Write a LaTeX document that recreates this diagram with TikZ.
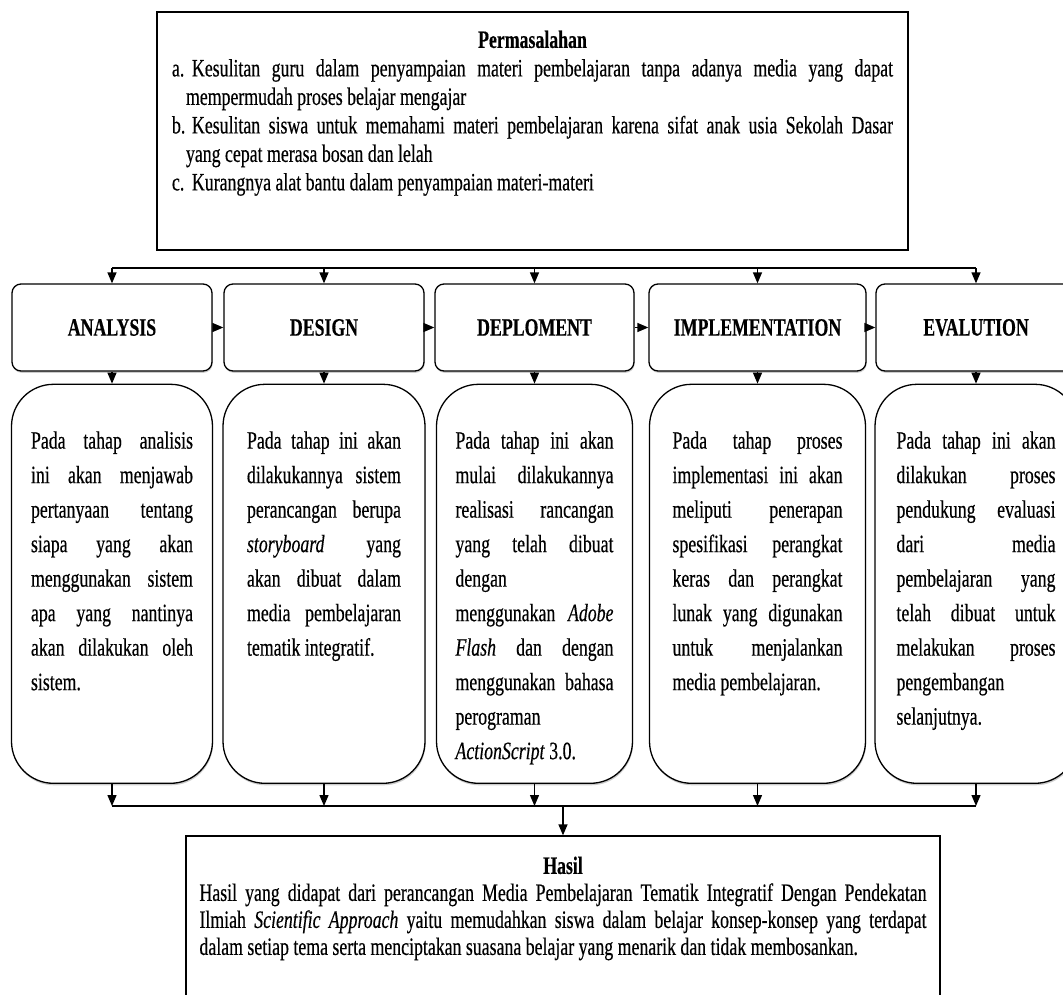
\documentclass[tikz,border=0pt]{standalone}
\usepackage{fontspec}
\setmainfont{Liberation Serif}[FakeStretch=0.712,FakeBold=0.4]
\usetikzlibrary{arrows.meta,positioning,shadows}
\hyphenpenalty=10000
\exhyphenpenalty=10000
\hbadness=10000
\tolerance=10000

\newcommand{\isikotak}[2]{\parbox[c][305pt][t]{#1}{\fontsize{25}{34.5}\selectfont #2}}
\newcommand{\butir}[1]{\hangindent=14pt\hangafter=1\noindent\makebox[20pt][l]{#1}}

\begin{document}
\begin{tikzpicture}[x=1pt,y=-1pt,
	every node/.style={font=\fontsize{25}{28.5}\selectfont},
	kotak/.style={draw, line width=1.3pt},
	tahap/.style={draw, fill=white, line width=1.3pt, rounded corners=9pt, minimum height=87pt,
		font=\fontsize{25}{28.5}\selectfont\bfseries,
		drop shadow={shadow xshift=0.6pt, shadow yshift=-1.8pt, fill=black!40}},
	ket/.style={draw, fill=white, line width=1.3pt, rounded corners=42pt, minimum height=399pt, inner sep=0pt,
		drop shadow={shadow xshift=0.6pt, shadow yshift=-2pt, fill=black!40}},
	panah/.style={line width=1.3pt, -{Triangle[width=9pt,length=11pt]}}]
	\useasboundingbox (0,0) rectangle (1063,995);

	% permasalahan
	\node[kotak, minimum width=751pt, minimum height=238pt] (masalah) at (532.5,131) {};
	\node[anchor=north, text width=721pt, align=justify, inner sep=0pt] (masalahisi) at ([yshift=-19pt]masalah.north)
	{\leavevmode\hfill\textbf{Permasalahan}\hfill\null\par
		\butir{a.}Kesulitan guru dalam penyampaian materi pembelajaran tanpa adanya media yang dapat\linebreak mempermudah proses belajar mengajar\par
		\butir{b.}Kesulitan siswa untuk memahami materi pembelajaran karena sifat anak usia Sekolah Dasar\linebreak yang cepat merasa bosan dan lelah\par
		\butir{c.}Kurangnya alat bantu dalam penyampaian materi-materi\par};

	% tahapan
	\node[tahap, minimum width=200pt] (analysis) at (112,327.5) {ANALYSIS};
	\node[tahap, minimum width=200pt] (design) at (324,327.5) {DESIGN};
	\node[tahap, minimum width=199pt] (deploment) at (534.5,327.5) {DEPLOMENT};
	\node[tahap, minimum width=217pt] (implementation) at (757.5,327.5) {IMPLEMENTATION};
	\node[tahap, minimum width=200pt] (evalution) at (976,327.5) {EVALUTION};

	% keterangan
	\node[ket, minimum width=201pt, below=12pt of analysis] (ketanalysis)
	{\isikotak{162pt}{Pada tahap analisis\linebreak ini akan menjawab\linebreak pertanyaan tentang\linebreak siapa yang akan\linebreak menggunakan sistem\linebreak apa yang nantinya\linebreak akan dilakukan oleh\linebreak sistem.}};
	\node[ket, minimum width=202pt, below=12pt of design] (ketdesign)
	{\isikotak{154pt}{Pada tahap ini akan\linebreak dilakukannya sistem\linebreak perancangan berupa\linebreak \textit{storyboard} yang\linebreak akan dibuat dalam\linebreak media pembelajaran\linebreak tematik integratif.}};
	\node[ket, minimum width=196pt, below=12pt of deploment] (ketdeploment)
	{\isikotak{158pt}{Pada tahap ini akan\linebreak mulai dilakukannya\linebreak realisasi rancangan\linebreak yang telah dibuat\linebreak dengan\linebreak menggunakan \textit{Adobe}\linebreak \textit{Flash} dan dengan\linebreak menggunakan bahasa\linebreak perograman\linebreak \textit{ActionScript} 3.0.}};
	\node[ket, minimum width=216pt, below=12pt of implementation] (ketimplementation)
	{\isikotak{170pt}{Pada tahap proses\linebreak implementasi ini akan\linebreak meliputi penerapan\linebreak spesifikasi perangkat\linebreak keras dan perangkat\linebreak lunak yang digunakan\linebreak untuk menjalankan\linebreak media pembelajaran.}};
	\node[ket, minimum width=202pt, below=12pt of evalution] (ketevalution)
	{\isikotak{159pt}{Pada tahap ini akan\linebreak dilakukan proses\linebreak pendukung evaluasi\linebreak dari media\linebreak pembelajaran yang\linebreak telah dibuat untuk\linebreak melakukan proses\linebreak pengembangan\linebreak selanjutnya.}};

	% hasil
	\node[kotak, minimum width=754pt, minimum height=200pt] (hasil) at (563,936) {};
	\node[anchor=north, text width=727pt, align=justify, inner sep=0pt, font=\fontsize{25}{27}\selectfont] (hasilisi) at ([yshift=-21pt]hasil.north)
	{\leavevmode\hfill\textbf{Hasil}\hfill\null\par
		\noindent Hasil yang didapat dari perancangan Media Pembelajaran Tematik Integratif Dengan Pendekatan\linebreak Ilmiah \textit{Scientific Approach} yaitu memudahkan siswa dalam belajar konsep-konsep yang terdapat\linebreak dalam setiap tema serta menciptakan suasana belajar yang menarik dan tidak membosankan.\par};

	% panah
	\coordinate (atas) at (0,268);
	\coordinate (bawah) at (0,806);
	\draw[line width=1.3pt] (analysis.north |- atas) -- (evalution.north |- atas);
	\draw[line width=1.3pt] (ketanalysis.south |- bawah) -- (ketevalution.south |- bawah);
	\foreach \t in {analysis,design,deploment,implementation,evalution}{
		\draw[panah] (\t.north |- atas) -- (\t.north);
		\draw[panah] (\t.south) -- (ket\t.north);
		\draw[panah] (ket\t.south) -- (ket\t.south |- bawah);
	}
	\draw[panah] (analysis) -- (design);
	\draw[panah] (design) -- (deploment);
	\draw[panah] (deploment) -- (implementation);
	\draw[panah] (implementation) -- (evalution);
	\draw[panah] (hasil.north |- bawah) -- (hasil.north);
\end{tikzpicture}
\end{document}
